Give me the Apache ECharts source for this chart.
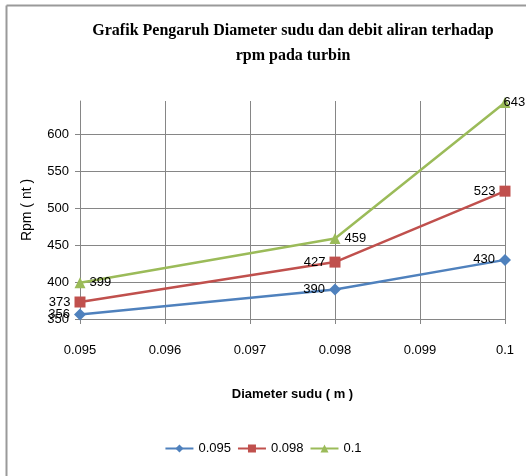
<!DOCTYPE html>
<html>
<head>
<meta charset="utf-8">
<script src="https://cdn.jsdelivr.net/npm/echarts@6/dist/echarts.min.js"></script>
<style>
  html, body { margin: 0; padding: 0; background: #fff; }
  #chart { width: 526px; height: 476px; }
</style>
</head>
<body>
<div id="chart"></div>
<script>
// Diameter sudu (m) on the x axis
const diameters = [0.095, 0.098, 0.1];
// Rpm for each debit aliran series
const rpm095 = [356, 390, 430];
const rpm098 = [373, 427, 523];
const rpm01 = [399, 459, 643];
const seriesNames = ['0.095', '0.098', '0.1'];

const sansFont = '"Liberation Sans", Arial, sans-serif';

function pairs(values) {
  return diameters.map((d, i) => [d, values[i]]);
}

const chart = echarts.init(document.getElementById('chart'));

function makeSeries(name, values, color, symbol, size, labelPos) {
  return {
    name: name,
    type: 'line',
    data: pairs(values),
    symbol: symbol,
    symbolSize: size,
    lineStyle: { color: color, width: 2.5 },
    itemStyle: { color: color },
    label: {
      show: true,
      position: labelPos,
      distance: 4,
      color: '#000',
      fontFamily: sansFont,
      fontSize: 13
    },
    z: 3
  };
}

const greenSeries = makeSeries(seriesNames[2], rpm01, '#9BBB59', 'triangle', 11, 'right');
// the last green label sits against the right edge, so it overlaps its marker
greenSeries.data[greenSeries.data.length - 1] = {
  value: greenSeries.data[greenSeries.data.length - 1],
  label: { position: 'right', distance: -7 }
};

chart.setOption({
  animation: false,
  backgroundColor: '#fff',
  title: {
    text: 'Grafik Pengaruh Diameter sudu dan debit aliran terhadap\nrpm pada turbin',
    left: 288,
    textAlign: 'center',
    top: 13,
    textStyle: {
      fontFamily: '"Liberation Serif", serif',
      fontWeight: 'bold',
      fontSize: 16,
      lineHeight: 25,
      color: '#000'
    }
  },
  graphic: [
    { type: 'line', shape: { x1: 6.5, y1: 5.5, x2: 526, y2: 5.5 }, style: { stroke: '#9a9a9a', lineWidth: 2 } },
    { type: 'line', shape: { x1: 6.5, y1: 5.5, x2: 6.5, y2: 476 }, style: { stroke: '#9a9a9a', lineWidth: 2 } }
  ],
  grid: { left: 80, right: 21, top: 101, bottom: 157 },
  legend: {
    data: seriesNames,
    bottom: 16,
    left: 'center',
    itemWidth: 28,
    itemHeight: 10,
    itemGap: 6,
    textStyle: { fontFamily: sansFont, fontSize: 13, color: '#000' }
  },
  xAxis: {
    type: 'value',
    min: 0.095,
    max: 0.1,
    interval: 0.001,
    name: 'Diameter sudu ( m )',
    nameLocation: 'middle',
    nameGap: 69,
    nameTextStyle: { fontFamily: sansFont, fontWeight: 'bold', fontSize: 13, color: '#000' },
    axisLine: { show: true, lineStyle: { color: '#868686', width: 1 } },
    axisTick: { show: true, length: 5, lineStyle: { color: '#868686' } },
    axisLabel: { margin: 25, fontFamily: sansFont, fontSize: 13, color: '#000' },
    splitLine: { show: true, lineStyle: { color: '#868686', width: 1 } }
  },
  yAxis: {
    type: 'value',
    min: 350,
    max: 645,
    interval: 50,
    name: 'Rpm ( nt )',
    nameLocation: 'middle',
    nameGap: 46,
    nameTextStyle: { fontFamily: sansFont, fontSize: 14, color: '#000' },
    axisLine: { show: true, lineStyle: { color: '#868686', width: 1 } },
    axisTick: { show: true, length: 5, lineStyle: { color: '#868686' } },
    axisLabel: {
      margin: 11,
      showMaxLabel: false,
      fontFamily: sansFont,
      fontSize: 13,
      color: '#000'
    },
    splitLine: { show: true, showMaxLine: false, lineStyle: { color: '#868686', width: 1 } }
  },
  series: [
    makeSeries(seriesNames[0], rpm095, '#4F81BD', 'diamond', 12, 'left'),
    makeSeries(seriesNames[1], rpm098, '#C0504D', 'rect', 11, 'left'),
    greenSeries
  ]
});
</script>
</body>
</html>
